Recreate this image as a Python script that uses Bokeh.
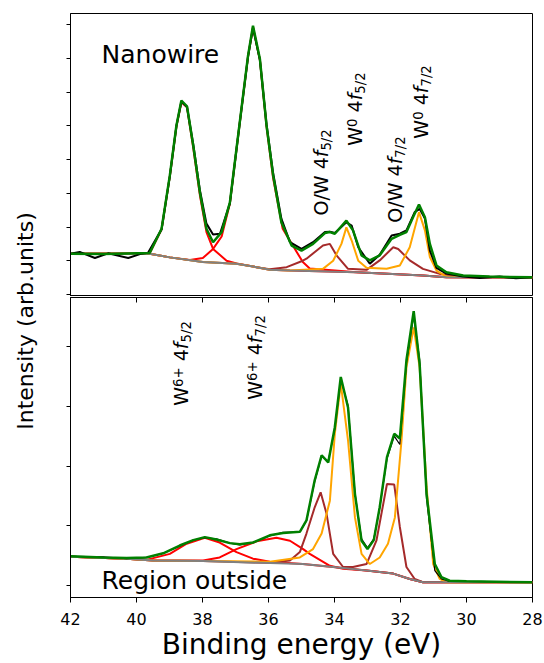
import math
from bokeh.plotting import figure
from bokeh.models import Range1d, FixedTicker, LinearAxis, Label
from bokeh.layouts import row, column
from bokeh.embed import file_html
from bokeh.resources import INLINE

FONT = "DejaVu Sans"

# ---------------- data: Nanowire (top panel) ----------------
nw_fit_e = [42.0, 41.0, 39.6, 39.24, 38.99, 38.79, 38.64, 38.47, 38.28, 38.08, 37.88, 37.68, 37.42, 37.17,
            36.97, 36.77, 36.62, 36.47, 36.26, 36.06, 35.86, 35.61, 35.30, 35.00, 34.65, 34.29, 34.14, 33.99,
            33.64, 33.44, 33.18, 32.93, 32.63, 32.27, 32.02, 31.82, 31.62, 31.44, 31.26, 31.11, 30.91, 30.61,
            30.10, 29.30, 28.0]
nw_fit_i = [1.21, 1.20, 1.23, 1.95, 3.53, 5.01, 5.75, 5.58, 4.41, 3.03, 1.95, 1.55, 1.85, 2.73,
            4.32, 5.90, 7.08, 7.97, 6.98, 5.01, 3.53, 2.14, 1.45, 1.30, 1.50, 1.82, 1.85, 1.80,
            2.19, 1.90, 1.16, 1.01, 1.16, 1.65, 1.77, 1.85, 2.29, 2.67, 2.29, 1.50, 0.86, 0.66,
            0.56, 0.53, 0.51]

nw_data_e = [42.0, 41.72, 41.26, 40.86, 40.25, 39.85, 39.65, 39.24, 38.99, 38.79, 38.64, 38.47, 38.28,
             38.08, 37.88, 37.68, 37.47, 37.17, 36.97, 36.77, 36.62, 36.47, 36.26, 36.06, 35.86, 35.61,
             35.35, 35.00, 34.65, 34.29, 34.14, 33.99, 33.64, 33.48, 33.28, 32.93, 32.63, 32.27, 32.02,
             31.82, 31.57, 31.42, 31.26, 31.11, 30.91, 30.61, 30.10, 29.60, 29.00, 28.50, 28.0]
nw_data_i = [1.21, 1.26, 1.08, 1.22, 1.08, 1.21, 1.24, 1.93, 3.50, 5.00, 5.72, 5.56, 4.45,
             3.10, 2.10, 1.78, 1.80, 2.70, 4.30, 5.88, 7.05, 7.90, 6.95, 5.05, 3.60, 2.25,
             1.55, 1.35, 1.55, 1.85, 1.86, 1.82, 2.14, 2.04, 1.40, 0.91, 1.18, 1.75, 1.80,
             1.90, 2.44, 2.54, 2.25, 1.30, 0.79, 0.62, 0.53, 0.49, 0.53, 0.48, 0.51]

nw_bg_e = [42.0, 39.6, 38.99, 37.99, 36.97, 36.36, 35.96, 35.35, 33.33, 31.32, 30.61, 28.0]
nw_bg_i = [1.21, 1.21, 1.10, 0.96, 0.91, 0.81, 0.73, 0.71, 0.66, 0.56, 0.51, 0.50]

nw_w6a_e = [42.0, 39.6, 39.24, 38.99, 38.79, 38.64, 38.47, 38.28, 38.08, 37.88, 37.68, 37.27, 36.97,
            36.36, 35.96, 35.35, 33.33, 31.32, 30.61, 28.0]
nw_w6a_i = [1.21, 1.22, 1.93, 3.50, 4.98, 5.70, 5.55, 4.35, 2.95, 1.85, 1.35, 1.00, 0.92,
            0.81, 0.73, 0.71, 0.66, 0.56, 0.51, 0.50]

nw_w6b_e = [42.0, 39.6, 38.99, 38.38, 37.99, 37.68, 37.42, 37.17, 36.97, 36.77, 36.62, 36.47, 36.26,
            36.06, 35.86, 35.57, 34.96, 34.75, 33.33, 31.32, 30.61, 28.0]
nw_w6b_i = [1.21, 1.21, 1.10, 1.02, 1.08, 1.35, 1.72, 2.70, 4.30, 5.88, 7.05, 7.93, 6.95,
            4.98, 3.45, 1.95, 0.96, 0.77, 0.66, 0.56, 0.51, 0.50]

nw_ow_e = [42.0, 39.6, 38.99, 37.99, 36.97, 36.36, 35.96, 35.45, 34.96, 34.85, 34.35, 34.14, 33.94,
           33.59, 33.03, 32.63, 32.22, 32.07, 31.72, 31.32, 30.81, 30.10, 28.0]
nw_ow_i = [1.21, 1.21, 1.10, 0.96, 0.91, 0.81, 0.75, 0.81, 1.00, 1.06, 1.45, 1.50, 1.16,
           0.76, 0.73, 1.01, 1.40, 1.35, 1.01, 0.76, 0.61, 0.53, 0.50]

nw_w0_e = [42.0, 39.6, 38.99, 37.99, 36.97, 36.36, 35.96, 35.35, 34.35, 34.04, 33.79, 33.64, 33.48,
           33.28, 33.03, 32.42, 32.02, 31.72, 31.44, 31.26, 31.11, 30.91, 30.61, 28.0]
nw_w0_i = [1.21, 1.21, 1.10, 0.96, 0.91, 0.81, 0.73, 0.71, 0.76, 1.00, 1.50, 1.99, 1.60,
           1.00, 0.79, 0.76, 0.86, 1.40, 2.44, 1.90, 1.11, 0.71, 0.53, 0.50]

# ---------------- data: Region outside (bottom panel) ----------------
ro_e = [42.0, 41.01, 40.30, 39.70, 39.19, 38.69, 38.28, 37.93, 37.58, 37.17, 36.87, 36.47, 35.96,
        35.56, 35.05, 34.85, 34.60, 34.39, 34.19, 33.99, 33.81, 33.59, 33.38, 33.18, 33.00, 32.81,
        32.63, 32.41, 32.19, 32.02, 31.82, 31.60, 31.42, 31.21, 30.96, 30.76, 30.51, 30.0, 28.0]
ro_fit_i = [0.49, 0.47, 0.46, 0.47, 0.54, 0.67, 0.76, 0.81, 0.77, 0.71, 0.69, 0.72, 0.84,
            0.88, 0.90, 1.09, 1.76, 2.18, 2.06, 2.65, 3.49, 2.98, 1.53, 0.75, 0.61, 0.76,
            1.31, 2.15, 2.54, 2.46, 3.77, 4.59, 3.71, 1.53, 0.36, 0.14, 0.08, 0.07, 0.055]
ro_data_i = [0.49, 0.48, 0.45, 0.47, 0.54, 0.66, 0.76, 0.80, 0.78, 0.71, 0.68, 0.72, 0.83,
             0.89, 0.90, 1.08, 1.74, 2.16, 2.08, 2.62, 3.45, 3.02, 1.55, 0.78, 0.63, 0.78,
             1.30, 2.12, 2.50, 2.36, 3.72, 4.52, 3.78, 1.45, 0.25, 0.11, 0.07, 0.07, 0.055]

ro_bg_e = [42.0, 40.3, 39.5, 37.99, 34.96, 34.04, 33.03, 32.22, 31.72, 31.32, 28.0]
ro_bg_i = [0.48, 0.45, 0.42, 0.41, 0.36, 0.31, 0.25, 0.20, 0.11, 0.055, 0.055]

ro_w6a_e = [42.0, 40.3, 39.70, 38.99, 38.48, 37.93, 37.48, 36.97, 36.47, 35.96, 34.96, 34.04, 33.03,
            32.22, 31.72, 31.32, 28.0]
ro_w6a_i = [0.48, 0.45, 0.43, 0.53, 0.70, 0.80, 0.72, 0.56, 0.45, 0.40, 0.36, 0.31, 0.25,
            0.20, 0.11, 0.055, 0.055]

ro_w6b_e = [42.0, 40.3, 39.5, 37.98, 37.48, 36.97, 36.36, 35.76, 35.35, 34.95, 34.75, 34.14, 33.74,
            33.03, 32.22, 31.72, 31.32, 28.0]
ro_w6b_i = [0.48, 0.45, 0.42, 0.42, 0.47, 0.61, 0.74, 0.80, 0.75, 0.61, 0.53, 0.33, 0.28,
            0.25, 0.20, 0.11, 0.055, 0.055]

ro_ow_e = [42.0, 40.3, 39.5, 37.99, 35.96, 35.35, 35.05, 34.85, 34.60, 34.42, 34.24, 34.04, 33.74,
           33.44, 33.03, 32.73, 32.41, 32.19, 32.02, 31.82, 31.57, 31.32, 28.0]
ro_ow_i = [0.48, 0.45, 0.42, 0.41, 0.38, 0.42, 0.56, 0.87, 1.31, 1.56, 1.20, 0.53, 0.31,
           0.31, 0.36, 0.75, 1.70, 1.69, 0.98, 0.31, 0.11, 0.055, 0.055]

ro_w0_e = [42.0, 40.3, 39.5, 37.99, 35.96, 35.05, 34.65, 34.39, 34.14, 33.99, 33.81, 33.59, 33.38,
           33.18, 32.93, 32.63, 32.38, 32.17, 31.97, 31.82, 31.60, 31.42, 31.21, 31.01, 30.81, 30.61, 28.0]
ro_w0_i = [0.48, 0.45, 0.42, 0.41, 0.40, 0.47, 0.61, 0.87, 1.42, 2.54, 3.38, 2.43, 1.14,
           0.53, 0.36, 0.47, 0.70, 1.14, 2.43, 3.65, 4.32, 3.65, 1.65, 0.36, 0.11, 0.055, 0.055]

x_ticks = [42, 40, 38, 36, 34, 32, 30, 28]
nw_y_ticks = [0, 1, 2, 3, 4, 5, 6, 7, 8]
ro_y_ticks = [0, 1, 2, 3, 4]

# rotated peak labels: (energy, intensity, parts)
nw_labels = [
    (34.17, 2.34, [("O/W", "n"), (" 4", "n"), ("f", "i"), ("5/2", "sub")]),
    (33.14, 4.41, [("W", "n"), ("0", "sup"), (" 4", "n"), ("f", "i"), ("5/2", "sub")]),
    (31.93, 2.13, [("O/W", "n"), (" 4", "n"), ("f", "i"), ("7/2", "sub")]),
    (31.14, 4.62, [("W", "n"), ("0", "sup"), (" 4", "n"), ("f", "i"), ("7/2", "sub")]),
]
ro_labels = [
    (38.42, 3.01, [("W", "n"), ("6+", "sup"), (" 4", "n"), ("f", "i"), ("5/2", "sub")]),
    (36.17, 3.11, [("W", "n"), ("6+", "sup"), (" 4", "n"), ("f", "i"), ("7/2", "sub")]),
]

WIDTHS = {'O': 0.787, '/': 0.337, 'W': 0.989, ' ': 0.318, '4': 0.636, 'f': 0.352, '0': 0.636,
          '2': 0.636, '5': 0.636, '6': 0.636, '7': 0.636, '+': 0.838}

GREEN = "#008000"
RED = "#ff0000"
BROWN = "#a52a2a"
ORANGE = "#ffa500"
GRAY = "#808080"

BASE_FIX = 0.4  # em shift so the rendered alphabetic baseline sits where intended


def rich_label(p, x, y, parts, size=19.0):
    adv = 0.0
    for txt, kind in parts:
        fs = size * 0.7 if kind in ("sup", "sub") else size
        lead = len(txt) - len(txt.lstrip(" "))
        adv += lead * WIDTHS[' '] * fs
        txt = txt.lstrip(" ")
        dx = {"sup": -5.5, "sub": 3.0}.get(kind, 0.0) - BASE_FIX * fs
        style = "italic" if kind == "i" else "normal"
        p.add_layout(Label(x=x, y=y, x_offset=dx, y_offset=adv, text=txt, angle=math.pi / 2,
                           text_font=FONT, text_font_size=f"{fs:.1f}px", text_font_style=style,
                           text_align="left", text_baseline="alphabetic", text_color="black"))
        adv += sum(WIDTHS[c] for c in txt) * fs


def style_panel(p, yticks):
    p.grid.visible = False
    p.outline_line_color = "black"
    p.outline_line_width = 1
    p.outline_line_alpha = 1
    ya = p.yaxis[0]
    ya.ticker = FixedTicker(ticks=yticks)
    ya.major_label_text_font_size = "0px"
    ya.major_label_text_color = None
    ya.major_tick_out = 4
    ya.major_tick_in = 0
    ya.major_label_standoff = 0
    ya.axis_line_color = "black"
    ya.major_tick_line_color = "black"


W_PANEL = 494

# ---------------- top panel ----------------
top = figure(width=W_PANEL, height=296, x_range=Range1d(42, 28), y_range=Range1d(-0.06, 8.33),
             output_backend="svg", toolbar_location=None,
             min_border_left=20, min_border_right=12, min_border_top=13, min_border_bottom=0)
style_panel(top, nw_y_ticks)
top.xaxis.visible = False

top.line(nw_w6a_e, nw_w6a_i, line_color=RED, line_width=2)
top.line(nw_w6b_e, nw_w6b_i, line_color=RED, line_width=2)
top.line(nw_ow_e, nw_ow_i, line_color=BROWN, line_width=2)
top.line(nw_w0_e, nw_w0_i, line_color=ORANGE, line_width=2)
top.line(nw_bg_e, nw_bg_i, line_color=GRAY, line_width=2)
top.line(nw_data_e, nw_data_i, line_color="black", line_width=2)
top.line(nw_fit_e, nw_fit_i, line_color=GREEN, line_width=2.5)

top.add_layout(Label(x=41.06, y=6.81, y_offset=BASE_FIX * 25, text="Nanowire", text_font=FONT,
                     text_font_size="25px", text_align="left", text_baseline="alphabetic",
                     text_color="black"))
for ex, iy, parts in nw_labels:
    rich_label(top, ex, iy, parts)

# ---------------- bottom panel ----------------
bot = figure(width=W_PANEL, height=367, x_range=top.x_range, y_range=Range1d(-0.20, 4.82),
             output_backend="svg", toolbar_location=None,
             min_border_left=20, min_border_right=12, min_border_top=1, min_border_bottom=66)
style_panel(bot, ro_y_ticks)
xa = bot.xaxis[0]
xa.ticker = FixedTicker(ticks=x_ticks)
xa.major_tick_out = 5
xa.major_tick_in = 0
xa.major_label_standoff = 10
xa.major_label_text_font = FONT
xa.major_label_text_font_size = "16px"
xa.major_label_text_color = "black"
xa.axis_label = "Binding energy (eV)"
xa.axis_label_text_font = FONT
xa.axis_label_text_font_size = "28px"
xa.axis_label_text_font_style = "normal"
xa.axis_label_text_color = "black"
xa.axis_label_standoff = 0
xa.axis_line_color = "black"

top_ticks = LinearAxis(ticker=FixedTicker(ticks=x_ticks), major_tick_in=5, major_tick_out=0,
                       major_label_text_font_size="0px", major_label_text_color=None,
                       major_label_standoff=0,
                       axis_line_color=None, major_tick_line_color="black")
bot.add_layout(top_ticks, "above")

bot.line(ro_w6a_e, ro_w6a_i, line_color=RED, line_width=2)
bot.line(ro_w6b_e, ro_w6b_i, line_color=RED, line_width=2)
bot.line(ro_ow_e, ro_ow_i, line_color=BROWN, line_width=2)
bot.line(ro_w0_e, ro_w0_i, line_color=ORANGE, line_width=2)
bot.line(ro_bg_e, ro_bg_i, line_color=GRAY, line_width=2)
bot.line(ro_e, ro_data_i, line_color="black", line_width=1.2)
bot.line(ro_e, ro_fit_i, line_color=GREEN, line_width=2.5)

bot.add_layout(Label(x=41.06, y=-0.08, y_offset=BASE_FIX * 25, text="Region outside", text_font=FONT,
                     text_font_size="25px", text_align="left", text_baseline="alphabetic",
                     text_color="black"))
for ex, iy, parts in ro_labels:
    rich_label(bot, ex, iy, parts)

# ---------------- shared y-axis title ----------------
lab = figure(width=50, height=663, x_range=Range1d(0, 50), y_range=Range1d(0, 663),
             output_backend="svg", toolbar_location=None, min_border=0,
             x_axis_type=None, y_axis_type=None, outline_line_color=None)
lab.add_layout(Label(x=33.5, y=342.5, x_offset=-BASE_FIX * 22, text="Intensity (arb.units)",
                     angle=math.pi / 2, text_font=FONT, text_font_size="22px", text_align="center",
                     text_baseline="alphabetic", text_color="black"))

layout = row(lab, column(top, bot, spacing=0), spacing=0)

open("out.html", "w").write(file_html(layout, INLINE))
